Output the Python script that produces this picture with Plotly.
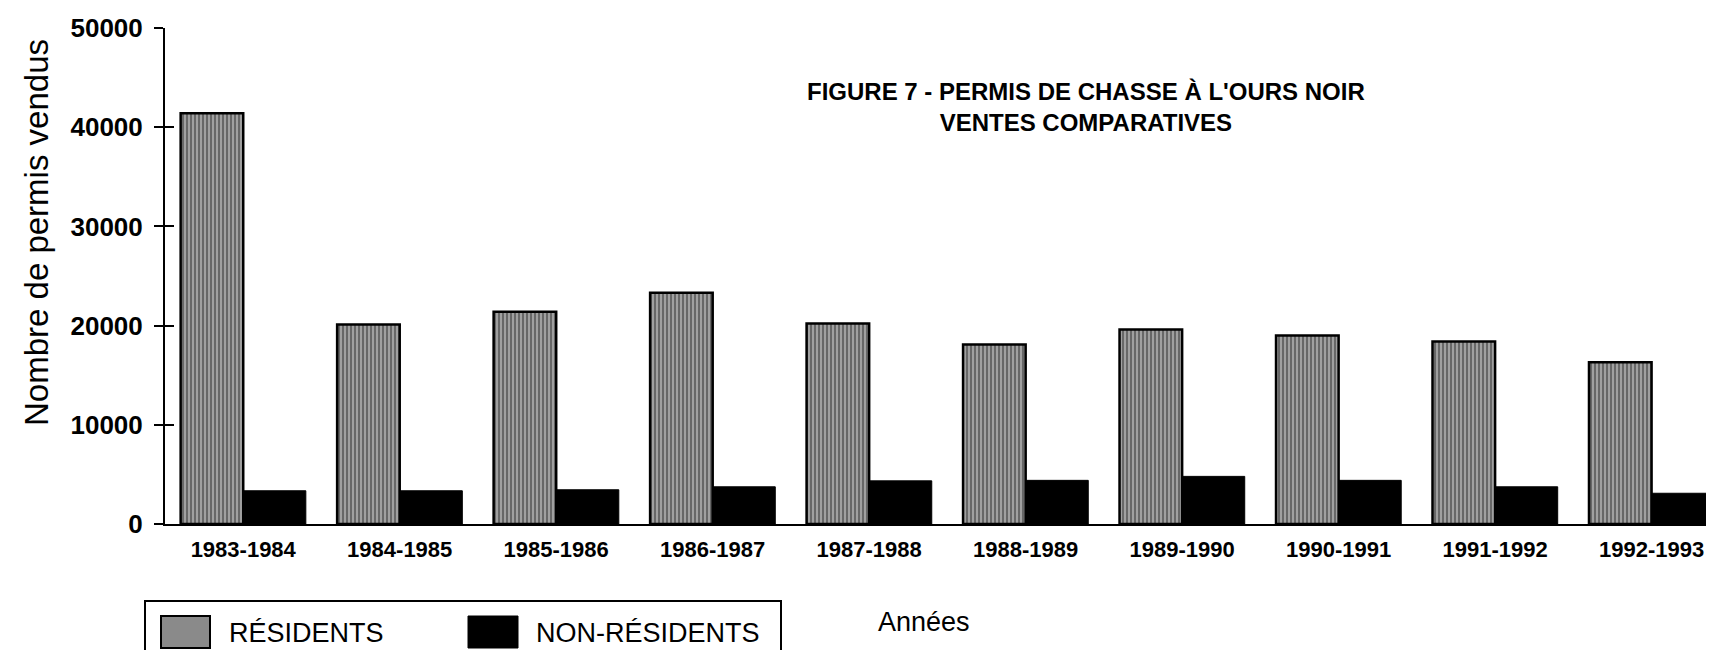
import plotly.graph_objects as go

# ---- data ----
years = ["1983-1984", "1984-1985", "1985-1986", "1986-1987", "1987-1988",
         "1988-1989", "1989-1990", "1990-1991", "1991-1992", "1992-1993"]
residents = [41400, 20100, 21400, 23300, 20200, 18100, 19600, 19000, 18400, 16300]
non_residents = [3350, 3350, 3450, 3750, 4350, 4400, 4800, 4400, 3750, 3100]
y_ticks = [0, 10000, 20000, 30000, 40000, 50000]
y_tick_text = ["0", "10000", "20000", "30000", "40000", "50000"]

title_text = "FIGURE 7 - PERMIS DE CHASSE À L'OURS NOIR<br>VENTES COMPARATIVES"
y_title = "Nombre de permis vendus"
x_title = "Années"
legend_labels = ["RÉSIDENTS", "NON-RÉSIDENTS"]

W, H = 1714, 650
ML, MR, MT, MB = 157, 0, 20, 134
PW, PH = W - ML - MR, H - MT - MB


def px(x):
    return (x - ML) / PW


def py(y):
    return (H - MB - y) / PH


FONT = "Liberation Sans, Arial, sans-serif"

fig = go.Figure()
fig.add_trace(go.Bar(
    x=years, y=residents, name=legend_labels[0],
    marker=dict(color="#a0a0a0",
                line=dict(color="black", width=2.5),
                pattern=dict(shape="|", fgcolor="#111111", bgcolor="#a0a0a0",
                             size=4, solidity=0.4)),
    showlegend=False,
))
fig.add_trace(go.Bar(
    x=years, y=non_residents, name=legend_labels[1],
    marker=dict(color="black", line=dict(color="black", width=1)),
    showlegend=False,
))
# invisible companion trace so the inner tick axis (y2) is drawn
fig.add_trace(go.Scatter(
    x=years, y=residents, yaxis="y2", mode="markers",
    marker=dict(opacity=0), hoverinfo="skip", showlegend=False,
))

fig.update_layout(
    width=W, height=H,
    margin=dict(l=ML, r=MR, t=MT, b=MB, pad=0),
    paper_bgcolor="white", plot_bgcolor="white",
    barmode="group", bargap=0.2, bargroupgap=0,
    font=dict(family=FONT, color="black"),
    xaxis=dict(range=[-0.5, 9.45], showline=True, linecolor="black", linewidth=2,
               ticks="", showgrid=False, zeroline=False,
               tickfont=dict(size=22, family=FONT, weight="bold"),
               ticklabelstandoff=5),
    yaxis=dict(range=[0, 50000], tickvals=y_ticks, ticktext=y_tick_text,
               showline=True, linecolor="black",
               linewidth=2, ticks="outside", ticklen=9, tickwidth=2, tickcolor="black",
               showgrid=False, zeroline=False, ticklabelstandoff=6,
               ticklabeloverflow="allow",
               tickfont=dict(size=26, family=FONT, weight="bold")),
    yaxis2=dict(range=[0, 50000], overlaying="y", side="left", tickvals=y_ticks,
                ticks="inside", ticklen=9, tickwidth=2, tickcolor="black",
                showticklabels=False, showgrid=False, showline=False, zeroline=False),
)

# title
fig.add_annotation(text=title_text, xref="paper", yref="paper",
                   x=px(1078), y=py(99), xanchor="center", yanchor="middle",
                   showarrow=False, align="center",
                   font=dict(size=24, family=FONT, weight="bold"))
# axis titles
fig.add_annotation(text=y_title, xref="paper", yref="paper",
                   x=px(28), y=py(225), xanchor="center", yanchor="middle",
                   textangle=-90, showarrow=False, font=dict(size=33, family=FONT))
fig.add_annotation(text=x_title, xref="paper", yref="paper",
                   x=px(916), y=py(614), xanchor="center", yanchor="middle",
                   showarrow=False, font=dict(size=27, family=FONT))

# legend (box, swatches, labels)
fig.add_shape(type="rect", xref="paper", yref="paper",
              x0=px(137), x1=px(773), y0=py(593), y1=py(670),
              line=dict(color="black", width=2), fillcolor="rgba(0,0,0,0)")
fig.add_shape(type="rect", xref="paper", yref="paper",
              x0=px(153), x1=px(202), y0=py(608), y1=py(640),
              line=dict(color="black", width=2), fillcolor="#8a8a8a")
fig.add_shape(type="rect", xref="paper", yref="paper",
              x0=px(460), x1=px(510), y0=py(608), y1=py(640),
              line=dict(color="black", width=1), fillcolor="black")
fig.add_annotation(text=legend_labels[0], xref="paper", yref="paper",
                   x=px(219), y=py(625), xanchor="left", yanchor="middle",
                   showarrow=False, font=dict(size=27, family=FONT))
fig.add_annotation(text=legend_labels[1], xref="paper", yref="paper",
                   x=px(526), y=py(625), xanchor="left", yanchor="middle",
                   showarrow=False, font=dict(size=27, family=FONT))

fig.write_html("out.html")
